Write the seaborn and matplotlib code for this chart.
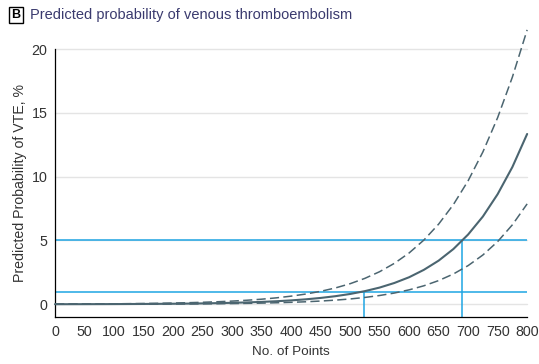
import pandas as pd
import seaborn as sns
import matplotlib.pyplot as plt
from matplotlib.patches import Rectangle

# values (No. of points -> predicted probability, %)
points = [0, 25, 50, 75, 100, 125, 150, 175, 200, 225, 250, 275, 300, 325, 350, 375,
          400, 425, 450, 475, 500, 525, 550, 575, 600, 625, 650, 675, 700, 725, 750, 775, 800]
prob = [0.006, 0.008, 0.010, 0.013, 0.016, 0.021, 0.026, 0.034, 0.043, 0.055, 0.070, 0.090,
        0.115, 0.146, 0.187, 0.239, 0.305, 0.389, 0.497, 0.634, 0.808, 1.03, 1.31, 1.67,
        2.12, 2.70, 3.42, 4.33, 5.47, 6.88, 8.63, 10.76, 13.35]
upper = [0.015, 0.019, 0.024, 0.030, 0.038, 0.048, 0.061, 0.077, 0.098, 0.124, 0.156, 0.198,
         0.250, 0.316, 0.399, 0.504, 0.637, 0.804, 1.015, 1.279, 1.612, 2.031, 2.554, 3.208,
         4.022, 5.033, 6.281, 7.813, 9.682, 11.94, 14.63, 17.81, 21.51]
lower = [0.003, 0.004, 0.005, 0.006, 0.008, 0.010, 0.012, 0.016, 0.021, 0.026, 0.034, 0.044,
         0.056, 0.072, 0.093, 0.119, 0.153, 0.197, 0.253, 0.325, 0.417, 0.536, 0.688, 0.882,
         1.132, 1.450, 1.857, 2.374, 3.032, 3.864, 4.914, 6.230, 7.870]

# risk thresholds (%) and the point totals where the curve reaches them
thresholds = [1, 5]
cut_points = [524, 690]

x_ticks = list(range(0, 801, 50))
y_ticks = [0, 5, 10, 15, 20]

df = pd.DataFrame({
    'points': points * 3,
    'prob': prob + upper + lower,
    'series': ['est'] * len(points) + ['upper'] * len(points) + ['lower'] * len(points),
})

sns.set_style('white')
plt.rcParams['font.family'] = ['Liberation Sans', 'DejaVu Sans']

curve_col = '#4b6570'
blue = '#1ea5e3'
text_col = '#333333'

fig = plt.figure(figsize=(5.39, 3.64), dpi=100)
ax = fig.add_axes([0.102, 0.129, 0.876, 0.736])

# light grid
for y in y_ticks:
    ax.axhline(y, color='#e4e4e4', lw=1.0, zorder=0)

sns.lineplot(data=df, x='points', y='prob', hue='series', style='series',
             palette={'est': curve_col, 'upper': curve_col, 'lower': curve_col},
             dashes={'est': '', 'upper': (6, 2.8), 'lower': (6, 2.8)},
             size='series', sizes={'est': 1.5, 'upper': 1.1, 'lower': 1.1},
             legend=False, ax=ax, zorder=3)
for ln in ax.get_lines():
    ln.set_clip_on(False)

for t in thresholds:
    ax.axhline(t, color=blue, lw=1.1, zorder=2)
ax.vlines(cut_points, -1, thresholds, color=blue, lw=1.1, zorder=2)

ax.set_xlim(0, 800)
ax.set_ylim(-1, 20)
ax.set_xticks(x_ticks)
ax.set_yticks(y_ticks)
ax.tick_params(axis='both', direction='out', length=4, width=0.9, color='black',
               labelsize=10.3, labelcolor=text_col, pad=1.5)
for s in ['top', 'right']:
    ax.spines[s].set_visible(False)
for s in ['left', 'bottom']:
    ax.spines[s].set_color('black')
    ax.spines[s].set_linewidth(0.9)

ax.set_xlabel('No. of Points', fontsize=9.7, color=text_col, labelpad=5)
ax.set_ylabel('Predicted Probability of VTE, %', fontsize=10.2, color=text_col, labelpad=3)

# panel title with boxed letter
fig.add_artist(Rectangle((9 / 539, 1 - 23 / 364), 14 / 539, 16 / 364, fill=False,
                         edgecolor='black', lw=1.0, transform=fig.transFigure))
fig.text(16 / 539, 1 - 15 / 364, 'B', ha='center', va='center', fontsize=9,
         fontweight='bold', color='black')
fig.text(30 / 539, 1 - 15 / 364, 'Predicted probability of venous thromboembolism',
         ha='left', va='center', fontsize=10.5, color='#3a3a6e')

fig.savefig('out.png', dpi=100)
